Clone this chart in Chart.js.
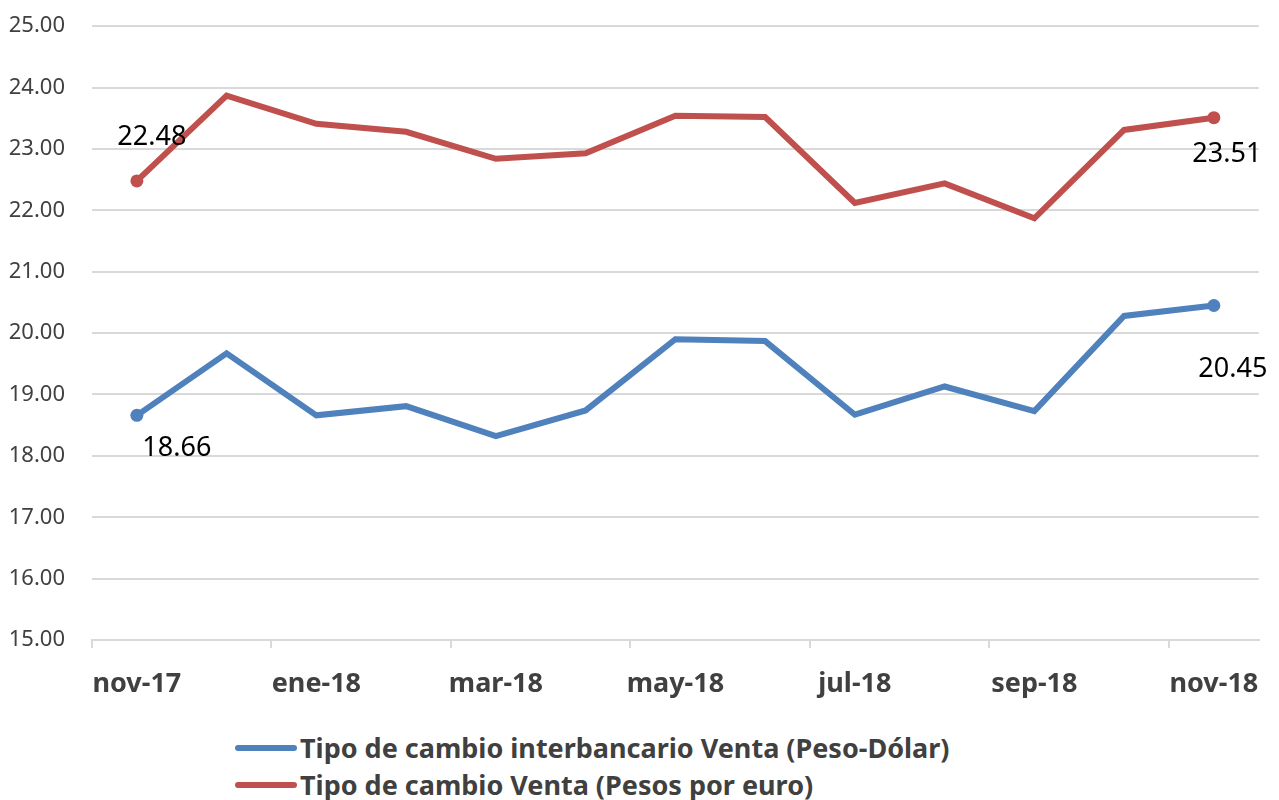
<!DOCTYPE html>
<html>
<head>
<meta charset="utf-8">
<script src="https://cdn.jsdelivr.net/npm/chart.js@4"></script>
<style>
  body { margin:0; background:#fff; font-family:"Noto Sans", sans-serif; }
  .wrap { position:relative; width:1279px; height:724px; margin-top:-14px; }
  .legend { position:absolute; left:235px; top:729px; }
  .legend .row { display:flex; align-items:center; height:37px; font-weight:bold; font-size:27px; color:#404040; }
  .legend .sw { width:62px; height:6px; border-radius:3px; margin-right:3px; }
</style>
</head>
<body>
<div class="wrap"><canvas id="c"></canvas></div>
<div class="legend" id="legend"></div>
<script>
'use strict';
const months = ['nov-17','dic-17','ene-18','feb-18','mar-18','abr-18','may-18','jun-18','jul-18','ago-18','sep-18','oct-18','nov-18'];
const dolar  = [18.66, 19.67, 18.66, 18.81, 18.32, 18.74, 19.90, 19.87, 18.67, 19.13, 18.73, 20.28, 20.45];
const euro   = [22.48, 23.87, 23.41, 23.28, 22.84, 22.93, 23.54, 23.52, 22.12, 22.44, 21.87, 23.31, 23.51];
const seriesNames = ['Tipo de cambio interbancario Venta (Peso-Dólar)', 'Tipo de cambio Venta (Pesos por euro)'];
const yTicks = [15, 16, 17, 18, 19, 20, 21, 22, 23, 24, 25];

const BLUE = '#4f81bd', RED = '#c0504d', GRID = '#d9d9d9', TXT = '#404040';
const last = months.length - 1;

// offsets of the first/last value labels from their point (px)
const labelOffsets = [
  { 0: [40, 33], [last]: [19, 64] },
  { 0: [15, -44], [last]: [13, 37] },
];

const endLabels = {
  id: 'endLabels',
  afterDatasetsDraw(chart) {
    const ctx = chart.ctx;
    ctx.save();
    ctx.font = '27px "Noto Sans"';
    ctx.fillStyle = '#000';
    ctx.textAlign = 'center';
    ctx.textBaseline = 'middle';
    chart.data.datasets.forEach((ds, di) => {
      const meta = chart.getDatasetMeta(di);
      Object.keys(labelOffsets[di]).forEach(k => {
        const i = +k, el = meta.data[i], off = labelOffsets[di][k];
        ctx.fillText(ds.data[i].toFixed(2), el.x + off[0], el.y + off[1]);
      });
    });
    ctx.restore();
  }
};

const endPoint = c => (c.dataIndex === 0 || c.dataIndex === last) ? 6.5 : 0;

new Chart(document.getElementById('c'), {
  type: 'line',
  data: {
    labels: months,
    datasets: [
      { label: seriesNames[0], data: dolar, borderColor: BLUE, backgroundColor: BLUE, borderWidth: 6,
        pointRadius: endPoint, pointHoverRadius: endPoint, pointBorderWidth: 0, tension: 0 },
      { label: seriesNames[1], data: euro, borderColor: RED, backgroundColor: RED, borderWidth: 6,
        pointRadius: endPoint, pointHoverRadius: endPoint, pointBorderWidth: 0, tension: 0 },
    ]
  },
  options: {
    responsive: true, maintainAspectRatio: false, animation: false,
    layout: { padding: { top: 11, right: 19, left: 0, bottom: 0 } },
    plugins: { legend: { display: false }, tooltip: { enabled: false } },
    scales: {
      x: {
        offset: true,
        grid: { offset: true, drawOnChartArea: false, tickLength: 8, lineWidth: 2,
                color: c => c.index % 2 === 0 ? GRID : 'rgba(0,0,0,0)' },
        border: { color: GRID, width: 2 },
        ticks: { autoSkip: false, maxRotation: 0, minRotation: 0, padding: 20, color: TXT,
                 font: { family: 'Noto Sans', size: 27, weight: 'bold' },
                 callback: (v, i) => i % 2 === 0 ? months[i] : '' },
        afterFit: s => { s.height = 70; }
      },
      y: {
        min: yTicks[0], max: yTicks[yTicks.length - 1],
        afterBuildTicks: s => { s.ticks = yTicks.map(v => ({ value: v })); },
        grid: { color: GRID, lineWidth: 2, drawTicks: false },
        border: { display: false },
        ticks: { padding: 27, color: TXT, font: { family: 'Noto Sans', size: 22 },
                 callback: v => Number(v).toFixed(2) },
        afterFit: s => { s.width = 92; }
      }
    }
  },
  plugins: [endLabels]
});

document.getElementById('legend').innerHTML = seriesNames.map((n, i) =>
  `<div class="row"><span class="sw" style="background:${[BLUE, RED][i]}"></span>${n}</div>`).join('');
</script>
</body>
</html>
